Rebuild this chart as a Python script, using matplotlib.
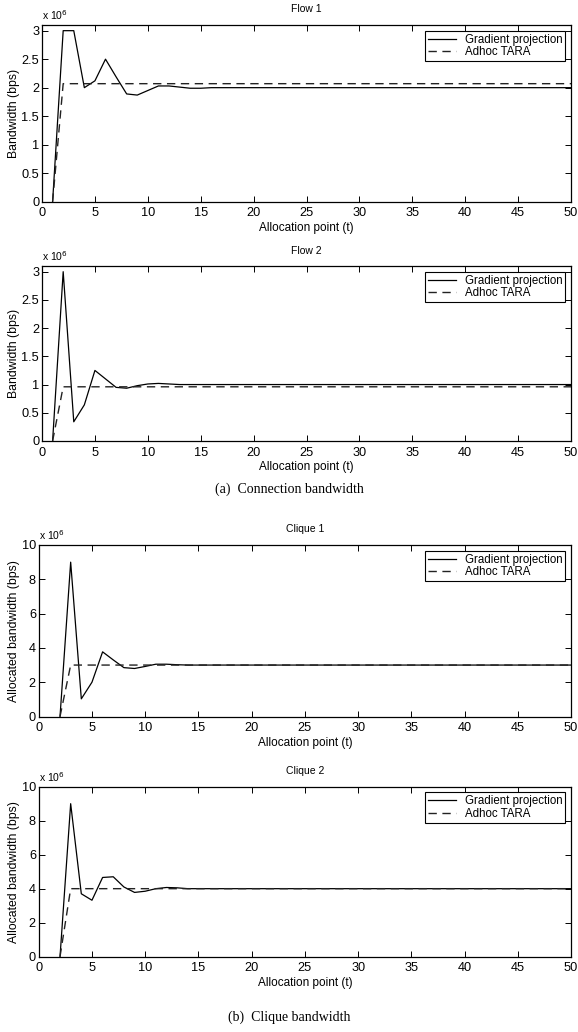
import numpy as np
import matplotlib
matplotlib.use('Agg')
import matplotlib.pyplot as plt
from matplotlib.ticker import FormatStrFormatter, MultipleLocator

plt.rcParams['font.family'] = ['Liberation Sans', 'DejaVu Sans']
plt.rcParams['font.size'] = 8.5

# allocation points t = 1..50, bandwidth in units of 10^6 bps
t = np.arange(1, 51)

flow1_gp = [0, 3.0, 3.0, 2.0, 2.12, 2.5, 2.19, 1.89, 1.87, 1.95,
            2.03, 2.03, 2.01, 1.99, 1.99] + [2.0] * 35
flow1_tara = [0] + [2.07] * 49

flow2_gp = [0, 3.0, 0.34, 0.64, 1.25, 1.1, 0.95, 0.935, 0.98, 1.01,
            1.02, 1.01, 1.0] + [1.0] * 37
flow2_tara = [0] + [0.96] * 49

clique1_gp = [np.nan, 0, 9.0, 1.03, 2.0, 3.77, 3.3, 2.85, 2.8, 2.92,
              3.05, 3.05, 3.02, 3.0] + [3.0] * 36
clique1_tara = [np.nan, 0] + [3.0] * 48

clique2_gp = [np.nan, 0, 9.0, 3.7, 3.32, 4.66, 4.7, 4.1, 3.78, 3.85,
              4.0, 4.07, 4.05, 4.0] + [4.0] * 36
clique2_tara = [np.nan, 0] + [4.0] * 48

panels = [
    ('Flow 1', flow1_gp, flow1_tara, 'Bandwidth (bps)', 3.1, 0.5),
    ('Flow 2', flow2_gp, flow2_tara, 'Bandwidth (bps)', 3.1, 0.5),
    ('Clique 1', clique1_gp, clique1_tara, 'Allocated bandwidth (bps)', 10, 2),
    ('Clique 2', clique2_gp, clique2_tara, 'Allocated bandwidth (bps)', 10, 2),
]

# axes rectangles in figure fractions: left, bottom, width, height
rects = [
    [0.0727, 0.8046, 0.9153, 0.1712],
    [0.0727, 0.5727, 0.9153, 0.1695],
    [0.0670, 0.3057, 0.9210, 0.1662],
    [0.0670, 0.0730, 0.9210, 0.1647],
]

fig = plt.figure(figsize=(5.78, 10.32), dpi=100)

for (title, gp, tara, ylabel, ytop, ystep), rect in zip(panels, rects):
    ax = fig.add_axes(rect)
    ax.plot(t, gp, color='black', lw=0.9, label='Gradient projection')
    ax.plot(t, tara, color='#222222', lw=1.0, ls=(0, (6, 4)), label='Adhoc TARA')
    ax.set_xlim(0, 50)
    ax.set_ylim(0, ytop)
    ax.xaxis.set_major_locator(MultipleLocator(5))
    ax.yaxis.set_major_locator(MultipleLocator(ystep))
    ax.yaxis.set_major_formatter(FormatStrFormatter('%g'))
    ax.tick_params(direction='in', top=True, right=True, length=4,
                   width=0.7, labelsize=9.2)
    ax.tick_params(axis='x', pad=4)
    ax.tick_params(axis='y', pad=2)
    for s in ax.spines.values():
        s.set_linewidth(0.9)
    ax.set_title(title, fontsize=7.5, pad=9)
    ax.set_xlabel('Allocation point (t)', fontsize=8.5, labelpad=2)
    ax.set_ylabel(ylabel, fontsize=8.8, labelpad=1)
    ax.text(0, 1.015, r'x 10$^{6}$', transform=ax.transAxes,
            ha='left', va='bottom', fontsize=7.5)
    leg = ax.legend(loc='upper right', fontsize=8.3, fancybox=False,
                    edgecolor='black', framealpha=1, borderaxespad=0.5,
                    handlelength=2.4, labelspacing=0.05, borderpad=0.25,
                    handletextpad=0.8)
    leg.get_frame().set_linewidth(0.8)

fig.text(0.5, 1 - 489 / 1032, '(a)  Connection bandwidth', ha='center',
         va='center', fontsize=10, family='Liberation Serif')
fig.text(0.5, 1 - 1017 / 1032, '(b)  Clique bandwidth', ha='center',
         va='center', fontsize=10, family='Liberation Serif')

fig.savefig('out.png', dpi=100)
